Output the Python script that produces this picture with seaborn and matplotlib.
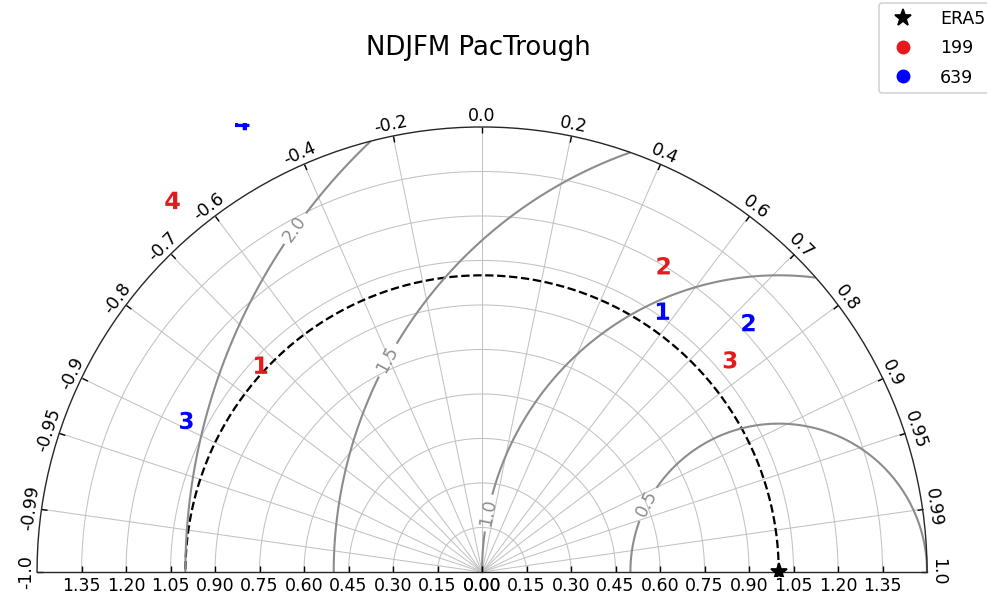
import numpy as np
import pandas as pd
import matplotlib
matplotlib.use("Agg")
import matplotlib.pyplot as plt
import seaborn as sns
from matplotlib.lines import Line2D
from matplotlib.projections import PolarAxes
import mpl_toolkits.axisartist.floating_axes as FA
import mpl_toolkits.axisartist.grid_finder as GF

# ---------------------------------------------------------------- data
TITLE = "NDJFM PacTrough"
REF_NAME = "ERA5"
REF_STD = 1.0

MODELS = ["199", "639"]
MODEL_COLORS = ["#e41a1c", "#0000ff"]
CASES = ["1", "2", "3", "4"]

std_199 = [1.02, 1.20, 1.10, 1.63]
corr_199 = [-0.73, 0.51, 0.76, -0.64]
std_639 = [1.07, 1.23, 1.12, 1.72]
corr_639 = [0.57, 0.73, -0.89, -0.47]

corr_ticks = [0.0, 0.2, 0.4, 0.6, 0.7, 0.8, 0.9, 0.95, 0.99, 1.0]
std_ticks = [0.0, 0.15, 0.30, 0.45, 0.60, 0.75, 0.90, 1.05, 1.20, 1.35]
rms_levels = [0.5, 1.0, 1.5, 2.0]
STD_MAX = 1.5

# where the contour labels sit, as (angle in rad, std)
rms_label_pos = [(0.394, 0.60), (1.473, 0.20), (1.988, 0.78), (2.070, 1.32)]

# ---------------------------------------------------------------- figure
DPI = 125
fig = plt.figure(figsize=(987 / DPI, 598 / DPI), dpi=DPI)

tr = PolarAxes.PolarTransform(apply_theta_transforms=False)

corr_all = [-c for c in corr_ticks[:0:-1]] + corr_ticks
theta_locs = np.arccos(corr_all)
theta_fmt = GF.DictFormatter(dict(zip(theta_locs, [str(float(c)) for c in corr_all])))
std_fmt = GF.DictFormatter({s: f"{s:.2f}" for s in std_ticks})

ghelper = FA.GridHelperCurveLinear(
    tr,
    extremes=(0, np.pi, 0, STD_MAX),
    grid_locator1=GF.FixedLocator(theta_locs),
    tick_formatter1=theta_fmt,
    grid_locator2=GF.FixedLocator(std_ticks),
    tick_formatter2=std_fmt,
)

ax = fig.add_axes([0.0285, 0.036, 0.9198, 0.7592],
                  axes_class=FA.FloatingAxes, grid_helper=ghelper)

# correlation (angular) axis
ax.axis["top"].set_axis_direction("bottom")
ax.axis["top"].toggle(ticklabels=True, label=False)
ax.axis["top"].major_ticklabels.set_axis_direction("top")
ax.axis["top"].major_ticklabels.set_fontsize(10)

# standard deviation axes (both halves of the baseline)
ax.axis["left"].set_axis_direction("bottom")
ax.axis["left"].label.set_text("")
ax.axis["right"].set_axis_direction("top")
ax.axis["right"].toggle(ticklabels=True)
ax.axis["right"].major_ticklabels.set_axis_direction("bottom")
for side in ("left", "right"):
    ax.axis[side].major_ticklabels.set_fontsize(10)
ax.axis["bottom"].set_visible(False)

for side in ("top", "left", "right"):
    ax.axis[side].line.set_linewidth(0.8)
    ax.axis[side].line.set_color("0.15")

ax.grid(True, color="0.76", linewidth=0.6)

aux = ax.get_aux_axes(tr)

# reference point and its standard deviation arc
aux.plot([0], [REF_STD], "k*", ls="", ms=10, zorder=5)
t = np.linspace(0, np.pi, 200)
aux.plot(t, np.full_like(t, REF_STD), "k--", lw=1.3)

# centred RMS difference contours
rs, ts = np.meshgrid(np.linspace(0, STD_MAX, 200), np.linspace(0, np.pi, 200))
rms = np.sqrt(REF_STD ** 2 + rs ** 2 - 2 * REF_STD * rs * np.cos(ts))
cs = aux.contour(ts, rs, rms, levels=rms_levels, colors="0.55", linewidths=1.2)
cs.clabel(inline=True, fontsize=10, fmt="%.1f", manual=rms_label_pos)

# model points, drawn as numbered markers
df = pd.DataFrame({
    "model": [MODELS[0]] * len(CASES) + [MODELS[1]] * len(CASES),
    "case": CASES + CASES,
    "std": std_199 + std_639,
    "corr": corr_199 + corr_639,
})
df["theta"] = np.arccos(df["corr"])
sns.scatterplot(
    data=df, x="theta", y="std", hue="model", style="case",
    palette=dict(zip(MODELS, MODEL_COLORS)),
    markers={c: rf"$\mathbf{{{c}}}$" for c in CASES},
    s=100, linewidth=0, legend=False, ax=aux, zorder=6,
)
aux.set_xlabel("")
aux.set_ylabel("")

# title and legend
fig.text(0.485, 1 - 48 / 598, TITLE, ha="center", va="center", fontsize=15)
handles = [Line2D([], [], marker="*", color="k", ls="", ms=10)]
handles += [Line2D([], [], marker="o", color=c, ls="", ms=7) for c in MODEL_COLORS]
fig.legend(handles, [REF_NAME] + MODELS, loc="upper left",
           bbox_to_anchor=(879 / 987, 1 - 3 / 598), borderaxespad=0,
           fontsize=10, numpoints=1, labelspacing=0.65, handletextpad=1.1)

fig.savefig("out.png", dpi=DPI)
